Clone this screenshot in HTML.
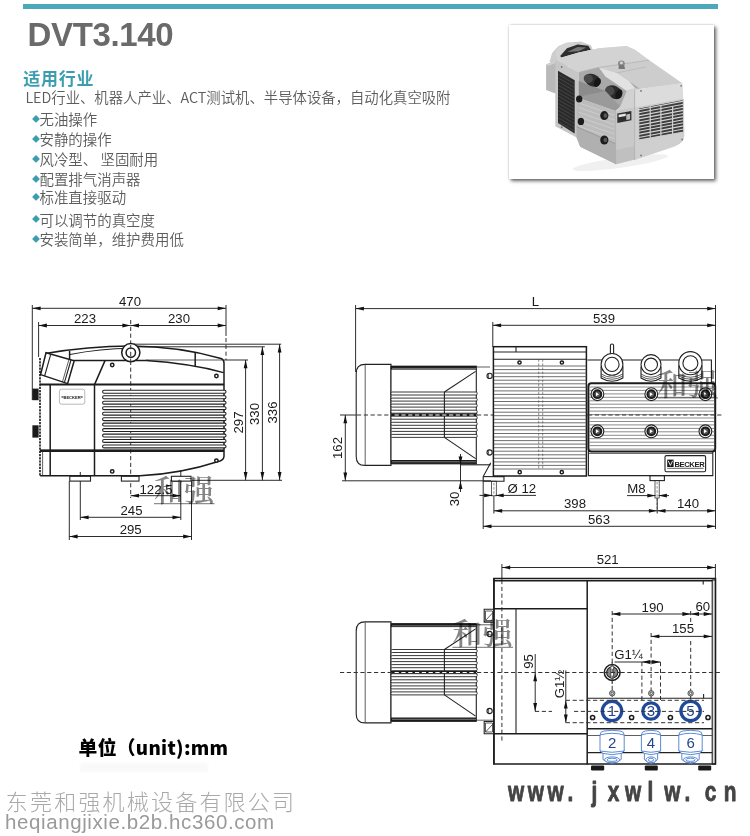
<!DOCTYPE html>
<html lang="zh-CN">
<head>
<meta charset="utf-8">
<title>DVT3.140</title>
<style>
html,body{margin:0;padding:0;background:#fff;}
body{width:750px;height:836px;position:relative;overflow:hidden;font-family:"Liberation Sans","Noto Sans CJK SC",sans-serif;}
#wrap{position:absolute;left:0;top:0;width:750px;height:836px;will-change:transform;}
.abs{position:absolute;white-space:nowrap;}
#bar{left:23px;top:4px;width:695px;height:5px;background:#4ba9b9;}
#title{left:27.6px;top:11px;font-size:33px;line-height:48px;font-weight:bold;color:#6a6a6a;letter-spacing:-0.35px;}
#head{left:23.2px;top:67.6px;font-size:17px;line-height:24px;font-weight:bold;color:#3d9db0;letter-spacing:0.75px;}
#desc{left:25.4px;top:85.5px;font-size:14.37px;line-height:22px;color:#5c5c5c;font-weight:350;font-family:"Noto Sans CJK SC","Liberation Sans",sans-serif;}
.li{left:32px;font-size:14.45px;line-height:20px;color:#5c5c5c;font-weight:350;font-family:"Noto Sans CJK SC","Liberation Sans",sans-serif;}
.li i{font-style:normal;color:#3d9db0;font-size:8px;display:inline-block;width:7.5px;vertical-align:3.6px;font-family:"DejaVu Sans",sans-serif;}
#card{left:508.5px;top:25.3px;width:205.3px;height:153.5px;background:#fff;box-shadow:2px 2px 3.5px rgba(0,0,0,.6),0 0 2px rgba(0,0,0,.22);}
#unit{left:78.6px;top:733.3px;font-size:18.8px;line-height:28px;font-weight:900;color:#000;letter-spacing:.3px;font-family:"Noto Sans CJK SC","Liberation Sans",sans-serif;}
#unit2{left:80px;top:763px;width:128px;height:9px;background:rgba(0,0,0,.022);filter:blur(1.2px);}
#corp{left:5.8px;top:784.6px;font-size:22px;line-height:30px;color:#a9a9a9;letter-spacing:2.2px;font-weight:300;font-family:"Noto Sans CJK SC",sans-serif;}
#url{left:5px;top:808px;font-size:20.5px;line-height:28px;color:#9a9a9a;letter-spacing:.6px;}
svg{position:absolute;left:0;top:0;}
svg line,svg path,svg rect,svg circle,svg ellipse{fill:none;stroke:#222;stroke-width:.9;}
svg .ph *{stroke:none;}
svg .ph line{fill:none;}
svg .k{stroke-width:1.5;stroke:#1c1c1c;}
svg .k2{stroke-width:2;stroke:#1c1c1c;}
svg .k15{stroke-width:1.6;stroke:#1c1c1c;}
svg .m{stroke-width:1.1;}
svg .n{stroke-width:.75;stroke:#2a2a2a;}
svg .g{stroke-width:.6;stroke:#8a8a8a;}
svg .cf{stroke-width:.75;stroke:#666;}
svg .hf{stroke-width:.8;stroke:#4a4a4a;}
svg .gf{stroke-width:.6;stroke:#9a9a9a;}
svg .t{stroke-width:.95;stroke:#222;}
svg .dsh{stroke-width:1;stroke:#333;stroke-dasharray:4.2 2.6;}
svg .dshw{stroke-width:1;stroke:#fff;stroke-dasharray:4.2 2.6;stroke-dashoffset:4.2;}
svg .dsh2{stroke-width:.6;stroke:#444;stroke-dasharray:2.5 1.6;}
svg .wav{stroke-width:1.6;stroke:#111;stroke-dasharray:2.2 1;}
svg .fin{stroke-width:.9;stroke:#222;fill:#fff;}
svg .gl{stroke:#bbb;stroke-width:.6;}
svg .lv{stroke-width:1.1;stroke:#222;fill:#fff;}
svg .blk{fill:#1a1a1a;stroke:none;}
svg .a{fill:#111;stroke:none;}
svg .wf{fill:#fff;stroke:none;}
svg .wln{stroke:#fff;stroke-width:.9;}
svg .bl3{stroke:#1f4a9a;stroke-width:3.3;}
svg .bl1{stroke:#4a7fd0;stroke-width:.9;}
svg .wmu{stroke:#8e8e8e;stroke-width:1.2;mix-blend-mode:multiply;}
svg text{font-family:"Liberation Sans","Noto Sans CJK SC",sans-serif;fill:#1a1a1a;stroke:none;}
svg .d{font-size:13.2px;}
svg .bn{font-size:15px;fill:#24468c;}
svg .bk1{font-size:4.1px;font-weight:bold;}
svg .bk2{font-size:7.6px;font-weight:bold;letter-spacing:-.35px;}
svg .wm{font-family:"Noto Serif CJK SC","Liberation Serif",serif;font-size:30px;fill:#858585;font-weight:600;mix-blend-mode:multiply;}
svg .www{font-family:"Liberation Sans",sans-serif;font-weight:bold;font-size:28.5px;fill:#444;stroke:#444;stroke-width:.9px;stroke-linejoin:round;}
</style>
</head>
<body>
<div id="wrap">
<div class="abs" id="bar"></div>
<div class="abs" id="title">DVT3.140</div>
<div class="abs" id="head">适用行业</div>
<div class="abs" id="desc">LED行业、机器人产业、ACT测试机、半导体设备，自动化真空吸附</div>
<div class="abs li" style="top:109.1px"><i>◆</i>无油操作</div>
<div class="abs li" style="top:129.1px"><i>◆</i>安静的操作</div>
<div class="abs li" style="top:149.1px"><i>◆</i>风冷型、 坚固耐用</div>
<div class="abs li" style="top:169.1px"><i>◆</i>配置排气消声器</div>
<div class="abs li" style="top:187.2px"><i>◆</i>标准直接驱动</div>
<div class="abs li" style="top:209.7px"><i>◆</i>可以调节的真空度</div>
<div class="abs li" style="top:229.4px"><i>◆</i>安装简单，维护费用低</div>
<div class="abs" id="card"></div>
<div class="abs" id="unit">单位（unit):mm</div>
<div class="abs" id="unit2"></div>
<div class="abs" id="corp">东莞和强机械设备有限公司</div>
<div class="abs" id="url">heqiangjixie.b2b.hc360.com</div>
<svg width="750" height="836" viewBox="0 0 750 836">
<defs><filter id="pb" x="-5%" y="-5%" width="110%" height="110%"><feGaussianBlur stdDeviation="0.45"/></filter></defs>
<g class="ph" filter="url(#pb)">
<ellipse cx="620.3" cy="162.6" rx="48" ry="5.1" style="fill:#f0f0f0" transform="rotate(-8 620.3 162.6)"/>
<polygon points="549.5,61.7 552.1,53.1 558.5,46.1 567,42.7 580.9,41.4 590.9,45.2 593.7,52.1 588.3,58.5 560.6,69.1" style="fill:#cdcdcd"/>
<ellipse cx="567" cy="52.1" rx="11.7" ry="9" style="fill:#d4d4d4" transform="rotate(-25 567 52.1)"/>
<polygon points="560.2,55.9 567,48.2 577.7,44.4 588.3,45.7 590.9,49.9 580.9,52.5 569.1,56.3 562.3,58.9" style="fill:#2e2e2e"/>
<polygon points="567,52.1 577.7,46.9 586.2,47.4 578.7,51.2" style="fill:#777"/>
<polygon points="546.1,64.4 556.3,60.2 556.3,93.7 546.1,90" style="fill:#b9b9b9"/>
<polygon points="546.1,64.4 556.3,60.2 558.9,61.5 548.2,66.1" style="fill:#d0d0d0"/>
<polygon points="555.3,60.2 578.7,71.7 578.7,138.5 555.3,126.3" style="fill:#c6c6c6"/>
<polygon points="558,70.8 574.7,80.2 574.7,133.6 558,122.9" style="fill:#2b2b2b"/>
<line x1="558.5" y1="74.5" x2="574.3" y2="83.6" style="stroke:#5a5a5a;stroke-width:0.5"/>
<line x1="558.5" y1="78.1" x2="574.3" y2="87.3" style="stroke:#5a5a5a;stroke-width:0.5"/>
<line x1="558.5" y1="81.7" x2="574.3" y2="90.9" style="stroke:#5a5a5a;stroke-width:0.5"/>
<line x1="558.5" y1="85.3" x2="574.3" y2="94.5" style="stroke:#5a5a5a;stroke-width:0.5"/>
<line x1="558.5" y1="89" x2="574.3" y2="98.1" style="stroke:#5a5a5a;stroke-width:0.5"/>
<line x1="558.5" y1="92.6" x2="574.3" y2="101.8" style="stroke:#5a5a5a;stroke-width:0.5"/>
<line x1="558.5" y1="96.2" x2="574.3" y2="105.4" style="stroke:#5a5a5a;stroke-width:0.5"/>
<line x1="558.5" y1="99.9" x2="574.3" y2="109" style="stroke:#5a5a5a;stroke-width:0.5"/>
<line x1="558.5" y1="103.5" x2="574.3" y2="112.7" style="stroke:#5a5a5a;stroke-width:0.5"/>
<line x1="558.5" y1="107.1" x2="574.3" y2="116.3" style="stroke:#5a5a5a;stroke-width:0.5"/>
<line x1="558.5" y1="110.7" x2="574.3" y2="119.9" style="stroke:#5a5a5a;stroke-width:0.5"/>
<line x1="558.5" y1="114.4" x2="574.3" y2="123.5" style="stroke:#5a5a5a;stroke-width:0.5"/>
<line x1="558.5" y1="118" x2="574.3" y2="127.2" style="stroke:#5a5a5a;stroke-width:0.5"/>
<line x1="558.5" y1="121.6" x2="574.3" y2="130.8" style="stroke:#5a5a5a;stroke-width:0.5"/>
<polygon points="556.3,58.9 578.7,52.5 599,48.2 626.7,46.1 635.3,49.9 649.1,60.2 682.2,83.2 640,88.8 628.9,81.1 617.1,73 599,67.4 578.7,72.5" style="fill:#dadada"/>
<polygon points="578.7,52.5 599,48.2 626.7,46.1 635.3,49.9 649.1,60.2 624.6,63.2 599,67.4 578.7,72.5 556.3,58.9" style="fill:#d3d3d3"/>
<polygon points="599,67.4 624.6,63.2 649.1,60.2 682.2,83.2 640,88.8 628.9,81.1 617.1,73" style="fill:#cdcdcd"/>
<line x1="578.7" y1="72.5" x2="599" y2="67.4" style="stroke:#999;stroke-width:0.6"/>
<line x1="599" y1="67.4" x2="649.1" y2="60.2" style="stroke:#aaa;stroke-width:0.6"/>
<line x1="608.6" y1="74.5" x2="645.9" y2="67" style="stroke:#b5b5b5;stroke-width:0.7"/>
<polygon points="578.7,72.5 599,67.4 617.1,73 628.9,81.1 640,88.8 634.2,90.9 620.3,106.5 578.7,90.9" style="fill:#a9a9a9"/>
<polygon points="599,67.4 617.1,73 628.9,81.1 635.3,88.3 626.7,90.9 605.4,76.6" style="fill:#e2e2e2"/>
<polygon points="578.7,80.9 605.4,90.9 616.1,107.5 578.7,96.9" style="fill:#8c8c8c"/>
<polygon points="620.3,106.5 626.7,90.9 635.3,88.3 640,88.8 634.6,90.9 634.6,107.1 615.6,111.4" style="fill:#d2d2d2"/>
<ellipse cx="592.6" cy="80.2" rx="8.5" ry="6" style="fill:#2a2a2a" transform="rotate(25 592.6 80.2)"/>
<ellipse cx="588.3" cy="78.7" rx="4.7" ry="4.3" style="fill:#4a4a4a" transform="rotate(25 588.3 78.7)"/>
<ellipse cx="597.3" cy="82.4" rx="3" ry="4.7" style="fill:#181818" transform="rotate(25 597.3 82.4)"/>
<ellipse cx="613.9" cy="92.2" rx="9" ry="6.4" style="fill:#2a2a2a" transform="rotate(25 613.9 92.2)"/>
<ellipse cx="609.7" cy="90.9" rx="4.7" ry="4.5" style="fill:#4a4a4a" transform="rotate(25 609.7 90.9)"/>
<ellipse cx="618.8" cy="94.3" rx="3" ry="4.9" style="fill:#181818" transform="rotate(25 618.8 94.3)"/>
<ellipse cx="621.4" cy="63.4" rx="3.4" ry="3" style="fill:#8a8a8a"/>
<ellipse cx="621.4" cy="62.9" rx="1.5" ry="1.3" style="fill:#d8d8d8"/>
<polygon points="618.8,64.9 624.2,64.9 625,69.1 618.6,69.1" style="fill:#777"/>
<polygon points="576.6,97.3 615.6,110.9 615.6,163.9 580.2,146.8 576.6,137.4" style="fill:#bcbcbc"/>
<polygon points="576.6,97.3 605.4,90.9 620.3,106.5 615.6,110.9" style="fill:#9a9a9a"/>
<line x1="578.7" y1="102.8" x2="614.4" y2="115.2" style="stroke:#d6d6d6;stroke-width:0.6"/>
<line x1="578.7" y1="107.5" x2="614.4" y2="119.9" style="stroke:#d6d6d6;stroke-width:0.6"/>
<line x1="578.7" y1="112.2" x2="614.4" y2="124.6" style="stroke:#d6d6d6;stroke-width:0.6"/>
<line x1="578.7" y1="116.9" x2="614.4" y2="129.3" style="stroke:#d6d6d6;stroke-width:0.6"/>
<line x1="578.7" y1="121.6" x2="614.4" y2="134" style="stroke:#d6d6d6;stroke-width:0.6"/>
<line x1="578.7" y1="126.3" x2="614.4" y2="138.7" style="stroke:#d6d6d6;stroke-width:0.6"/>
<line x1="578.7" y1="131" x2="614.4" y2="143.4" style="stroke:#d6d6d6;stroke-width:0.6"/>
<line x1="578.7" y1="135.7" x2="614.4" y2="148.1" style="stroke:#d6d6d6;stroke-width:0.6"/>
<line x1="578.7" y1="140.4" x2="614.4" y2="152.8" style="stroke:#d6d6d6;stroke-width:0.6"/>
<polygon points="576.6,126.7 615.6,143.8 615.6,163.9 580.2,146.8 576.6,137.4" style="fill:#b0b0b0"/>
<line x1="576.6" y1="126.7" x2="615.6" y2="143.8" style="stroke:#8e8e8e;stroke-width:0.7"/>
<polygon points="615.6,110.9 634.6,106.7 634.6,159.6 615.6,164.3" style="fill:#c9c9c9"/>
<polygon points="615.6,150.2 634.6,145.9 634.6,159.6 615.6,164.3" style="fill:#c0c0c0"/>
<line x1="615.6" y1="110.9" x2="615.6" y2="164.3" style="stroke:#a0a0a0;stroke-width:0.6"/>
<path d="M634.6,90 L682.2,83.2 L684.3,135.3 Q684.3,142.9 674.7,146.4 L634.6,160 Z" style="fill:#cfcfcf"/>
<polygon points="634.6,90 682.2,83.2 683.3,98.6 637.4,107.1 634.6,106.7" style="fill:#dcdcdc"/>
<line x1="634.6" y1="90" x2="634.6" y2="160" style="stroke:#a5a5a5;stroke-width:0.7"/>
<polygon points="638.7,108 683.3,99.4 683.7,132.1 638.7,140" style="fill:#3c3c3c"/>
<line x1="638.7" y1="109.7" x2="683.5" y2="101.1" style="stroke:#d4d4d4;stroke-width:1.1"/>
<line x1="638.7" y1="112.8" x2="683.5" y2="104.2" style="stroke:#d4d4d4;stroke-width:1.1"/>
<line x1="638.7" y1="115.9" x2="683.5" y2="107.3" style="stroke:#d4d4d4;stroke-width:1.1"/>
<line x1="638.7" y1="118.9" x2="683.5" y2="110.4" style="stroke:#d4d4d4;stroke-width:1.1"/>
<line x1="638.7" y1="122" x2="683.5" y2="113.5" style="stroke:#d4d4d4;stroke-width:1.1"/>
<line x1="638.7" y1="125.1" x2="683.5" y2="116.6" style="stroke:#d4d4d4;stroke-width:1.1"/>
<line x1="638.7" y1="128.2" x2="683.5" y2="119.7" style="stroke:#d4d4d4;stroke-width:1.1"/>
<line x1="638.7" y1="131.3" x2="683.5" y2="122.8" style="stroke:#d4d4d4;stroke-width:1.1"/>
<line x1="638.7" y1="134.4" x2="683.5" y2="125.9" style="stroke:#d4d4d4;stroke-width:1.1"/>
<line x1="638.7" y1="137.5" x2="683.5" y2="129" style="stroke:#d4d4d4;stroke-width:1.1"/>
<line x1="650.2" y1="106" x2="650.2" y2="137.8" style="stroke:#cfcfcf;stroke-width:1.2"/>
<line x1="660.9" y1="106" x2="660.9" y2="137.8" style="stroke:#cfcfcf;stroke-width:1.2"/>
<line x1="672.6" y1="106" x2="672.6" y2="137.8" style="stroke:#cfcfcf;stroke-width:1.2"/>
<polygon points="638.7,108 683.3,99.4 683.7,132.1 638.7,140" style="fill:none;stroke:#cfcfcf;stroke-width:1.2"/>
<ellipse cx="579.2" cy="99" rx="3.2" ry="3.6" style="fill:#1e1e1e"/>
<ellipse cx="580.9" cy="121.4" rx="3.2" ry="3.6" style="fill:#1e1e1e"/>
<ellipse cx="604.3" cy="115.6" rx="4.1" ry="4.5" style="fill:#1e1e1e"/>
<ellipse cx="604.3" cy="140" rx="4.1" ry="4.5" style="fill:#1e1e1e"/>
<ellipse cx="605.4" cy="115.6" rx="1.9" ry="2.3" style="fill:#555"/>
<ellipse cx="605.4" cy="140" rx="1.9" ry="2.3" style="fill:#555"/>
<polygon points="617.3,113.5 631.4,110.9 631.4,120.3 617.3,122.9" style="fill:#2f2f2f"/>
<polygon points="618.6,114.8 625.7,113.5 625.7,116.1 618.6,117.3" style="fill:#e8e8e8"/>
<polygon points="626.3,114.4 630.1,113.7 630.1,119.3 626.3,119.9" style="fill:#bbb"/>
<ellipse cx="561.7" cy="67" rx="0.9" ry="0.9" style="fill:#777"/>
<ellipse cx="561.7" cy="127.2" rx="0.9" ry="0.9" style="fill:#777"/>
<ellipse cx="641" cy="90.9" rx="0.9" ry="0.9" style="fill:#777"/>
<ellipse cx="681.1" cy="85.8" rx="0.9" ry="0.9" style="fill:#777"/>
<ellipse cx="682.2" cy="139.5" rx="0.9" ry="0.9" style="fill:#777"/>
<ellipse cx="641" cy="155.5" rx="0.9" ry="0.9" style="fill:#777"/>
</g>
<line class="t" x1="32.3" y1="305" x2="32.3" y2="400"/>
<line class="t" x1="38.6" y1="322" x2="38.6" y2="357"/>
<line class="t" x1="226" y1="305" x2="226" y2="336"/>
<line class="dsh" x1="226" y1="338" x2="226" y2="360"/>
<line class="t" x1="32.3" y1="308.3" x2="226" y2="308.3"/>
<polygon class="a" points="32.3,308.3 40.6,306.4 40.6,310.2"/>
<polygon class="a" points="226,308.3 217.7,306.4 217.7,310.2"/>
<text class="d" x="130" y="305.8" text-anchor="middle">470</text>
<line class="t" x1="38.6" y1="325.5" x2="130.7" y2="325.5"/>
<polygon class="a" points="38.6,325.5 46.9,323.6 46.9,327.4"/>
<polygon class="a" points="130.7,325.5 122.4,323.6 122.4,327.4"/>
<text class="d" x="85" y="323" text-anchor="middle">223</text>
<line class="t" x1="130.7" y1="325.5" x2="226" y2="325.5"/>
<polygon class="a" points="130.7,325.5 139,323.6 139,327.4"/>
<polygon class="a" points="226,325.5 217.7,323.6 217.7,327.4"/>
<text class="d" x="179" y="323" text-anchor="middle">230</text>
<line class="dsh" x1="130.7" y1="320" x2="130.7" y2="498"/>
<line class="t" x1="224" y1="360" x2="248" y2="360"/>
<line class="t" x1="136" y1="346.8" x2="264.8" y2="346.8"/>
<line class="t" x1="134" y1="344.2" x2="281.2" y2="344.2"/>
<line class="t" x1="190" y1="480.3" x2="282" y2="480.3"/>
<line class="t" x1="245.6" y1="360" x2="245.6" y2="480.3"/>
<polygon class="a" points="245.6,360 243.7,368.3 247.5,368.3"/>
<polygon class="a" points="245.6,480.3 243.7,472 247.5,472"/>
<line class="t" x1="262.4" y1="346.8" x2="262.4" y2="480.3"/>
<polygon class="a" points="262.4,346.8 260.5,355.1 264.3,355.1"/>
<polygon class="a" points="262.4,480.3 260.5,472 264.3,472"/>
<line class="t" x1="279.6" y1="344.2" x2="279.6" y2="480.3"/>
<polygon class="a" points="279.6,344.2 277.7,352.5 281.5,352.5"/>
<polygon class="a" points="279.6,480.3 277.7,472 281.5,472"/>
<text class="d" text-anchor="middle" transform="translate(242.6 422.5) rotate(-90)">297</text>
<text class="d" text-anchor="middle" transform="translate(259.4 414) rotate(-90)">330</text>
<text class="d" text-anchor="middle" transform="translate(276.6 412.5) rotate(-90)">336</text>
<line class="t" x1="180.8" y1="470" x2="180.8" y2="520"/>
<line class="t" x1="80.3" y1="472" x2="80.3" y2="520"/>
<line class="t" x1="69.3" y1="481" x2="69.3" y2="540"/>
<line class="t" x1="191.5" y1="481" x2="191.5" y2="540"/>
<line class="t" x1="130.7" y1="495.7" x2="180.8" y2="495.7"/>
<polygon class="a" points="130.7,495.7 139,493.8 139,497.6"/>
<polygon class="a" points="180.8,495.7 172.5,493.8 172.5,497.6"/>
<text class="d" x="156" y="493.5" text-anchor="middle">122.5</text>
<line class="t" x1="80.3" y1="517.3" x2="180.8" y2="517.3"/>
<polygon class="a" points="80.3,517.3 88.6,515.4 88.6,519.2"/>
<polygon class="a" points="180.8,517.3 172.5,515.4 172.5,519.2"/>
<text class="d" x="131.5" y="515" text-anchor="middle">245</text>
<line class="t" x1="69.3" y1="536.5" x2="191.5" y2="536.5"/>
<polygon class="a" points="69.3,536.5 77.6,534.6 77.6,538.4"/>
<polygon class="a" points="191.5,536.5 183.2,534.6 183.2,538.4"/>
<text class="d" x="130.7" y="534" text-anchor="middle">295</text>
<path class="k" d="M45.5,353.6 Q88,346 131,346 Q180,346.5 221,358.5 Q224,359.5 224,363 L224,456 Q224,459.5 220,461 Q180,474 140,475.8 L40.2,475.8"/>
<path class="m" d="M70,354.5 Q100,348.4 131,348.2"/>
<path class="k" d="M73.8,360.6 L146,360.6 Q190,363.5 223.5,372.6"/>
<line class="k" x1="195.2" y1="352.2" x2="195.2" y2="366.2"/>
<line class="k" x1="69.6" y1="351" x2="69.6" y2="359.6"/>
<line class="n" x1="146" y1="360" x2="224" y2="360"/>
<path class="k" d="M46,352.8 L74.2,360.8 L67.6,383.6 L40.6,374.6 Z" style="fill:#fff"/>
<path class="m" d="M50.8,354.2 L44.6,376"/>
<path class="m" d="M71,360 L64.4,382.6"/>
<path class="n" d="M69,359.4 L62.4,382"/>
<line class="wav" x1="40" y1="358" x2="40" y2="476"/>
<line class="k2" x1="40" y1="384.6" x2="224" y2="384.6"/>
<line class="k2" x1="40" y1="451" x2="224" y2="451"/>
<line class="n" x1="40" y1="449.6" x2="224" y2="449.6"/>
<line class="k" x1="50.2" y1="384.6" x2="50.2" y2="475.8"/>
<line class="k" x1="94.5" y1="384.6" x2="94.5" y2="475.8"/>
<path class="k" d="M105,360.6 L94.5,384.6"/>
<rect class="blk" x="32.4" y="388.6" width="6.2" height="11.6"/>
<rect class="blk" x="32.4" y="425.3" width="6.2" height="12.3"/>
<rect class="g" x="59.4" y="389.2" width="25.4" height="15" rx="2.2"/>
<text class="bk1" x="72.1" y="398.5" text-anchor="middle">BECKER</text>
<line class="m" x1="61.5" y1="397" x2="63.5" y2="397"/>
<line class="m" x1="80.7" y1="397" x2="82.7" y2="397"/>
<circle class="k" cx="130.8" cy="352.6" r="9.1" style="fill:#fff"/>
<circle class="k" cx="130.8" cy="352.6" r="4.7" style="fill:#fff"/>
<line class="dsh" x1="130.7" y1="345" x2="130.7" y2="362"/>
<circle class="k" cx="112.2" cy="365" r="1.7" style="fill:#fff"/>
<circle class="k" cx="216.4" cy="376" r="1.7" style="fill:#fff"/>
<circle class="k" cx="216.4" cy="460.6" r="1.7" style="fill:#fff"/>
<circle class="k" cx="112.2" cy="471.4" r="1.7" style="fill:#fff"/>
<rect class="lv" x="102.6" y="390.3" width="123.4" height="2.9" rx="1.4"/>
<rect class="lv" x="102.6" y="395.8" width="123.4" height="2.9" rx="1.4"/>
<rect class="lv" x="102.6" y="401.2" width="123.4" height="2.9" rx="1.4"/>
<rect class="lv" x="102.6" y="406.7" width="123.4" height="2.9" rx="1.4"/>
<rect class="lv" x="102.6" y="412.2" width="123.4" height="2.9" rx="1.4"/>
<rect class="lv" x="102.6" y="417.7" width="123.4" height="2.9" rx="1.4"/>
<rect class="lv" x="102.6" y="423.1" width="123.4" height="2.9" rx="1.4"/>
<rect class="lv" x="102.6" y="428.6" width="123.4" height="2.9" rx="1.4"/>
<rect class="lv" x="102.6" y="434.1" width="123.4" height="2.9" rx="1.4"/>
<rect class="lv" x="102.6" y="439.5" width="123.4" height="2.9" rx="1.4"/>
<rect class="lv" x="102.6" y="445" width="123.4" height="2.9" rx="1.4"/>
<rect class="m" x="69.8" y="476.3" width="20.7" height="4.8" style="fill:#fff"/>
<rect class="m" x="121.4" y="476.3" width="17.6" height="4.8" style="fill:#fff"/>
<rect class="m" x="171.4" y="476.3" width="19.6" height="4.8" style="fill:#fff"/>
<line class="n" x1="42.6" y1="452" x2="42.6" y2="475"/>
<line class="t" x1="355.6" y1="305" x2="355.6" y2="372"/>
<line class="t" x1="492.8" y1="322" x2="492.8" y2="347"/>
<line class="t" x1="715.5" y1="305" x2="715.5" y2="529"/>
<line class="t" x1="355.6" y1="308.6" x2="715.5" y2="308.6"/>
<polygon class="a" points="355.6,308.6 363.9,306.7 363.9,310.5"/>
<polygon class="a" points="715.5,308.6 707.2,306.7 707.2,310.5"/>
<text class="d" x="535.3" y="306" text-anchor="middle">L</text>
<line class="t" x1="492.8" y1="325.3" x2="715.5" y2="325.3"/>
<polygon class="a" points="492.8,325.3 501.1,323.4 501.1,327.2"/>
<polygon class="a" points="715.5,325.3 707.2,323.4 707.2,327.2"/>
<text class="d" x="604" y="323" text-anchor="middle">539</text>
<line class="t" x1="340" y1="415" x2="357" y2="415"/>
<line class="t" x1="342" y1="480.8" x2="491" y2="480.8"/>
<line class="t" x1="345.3" y1="415" x2="345.3" y2="480.8"/>
<polygon class="a" points="345.3,415 343.4,423.3 347.2,423.3"/>
<polygon class="a" points="345.3,480.8 343.4,472.5 347.2,472.5"/>
<text class="d" text-anchor="middle" transform="translate(342 448) rotate(-90)">162</text>
<path class="m" d="M391,364.4 L365,364.4 Q356.2,364.4 356.2,373.4 L356.2,456.4 Q356.2,465.4 365,465.4 L391,465.4 Z" style="fill:#fff"/>
<line class="n" x1="365.2" y1="364.9" x2="365.2" y2="464.9"/>
<rect class="m" x="391" y="366.2" width="85.3" height="97.6" style="fill:#fff"/>
<rect class="blk" x="391" y="366" width="85.3" height="3.6"/>
<rect class="blk" x="391" y="460" width="85.3" height="3.8"/>
<line class="gl" x1="392" y1="368.4" x2="476" y2="368.4"/>
<line class="gl" x1="392" y1="461.8" x2="476" y2="461.8"/>
<rect class="fin" x="391" y="392" width="86.2" height="3" rx="1.2"/>
<rect class="fin" x="391" y="398.1" width="86.2" height="3" rx="1.2"/>
<rect class="fin" x="391" y="404.1" width="86.2" height="3" rx="1.2"/>
<rect class="blk" x="391" y="413.2" width="86.2" height="3"/>
<rect class="fin" x="391" y="410.2" width="86.2" height="3" rx="1.2"/>
<rect class="fin" x="391" y="416.2" width="86.2" height="3" rx="1.2"/>
<rect class="fin" x="391" y="422.3" width="86.2" height="3" rx="1.2"/>
<rect class="fin" x="391" y="428.4" width="86.2" height="3" rx="1.2"/>
<rect class="fin" x="391" y="434.4" width="86.2" height="3" rx="1.2"/>
<line class="m" x1="444.4" y1="392" x2="444.4" y2="437.4"/>
<line class="m" x1="444.4" y1="392" x2="475.6" y2="371.4"/>
<line class="m" x1="444.4" y1="437.4" x2="475.6" y2="458.6"/>
<line class="dsh" x1="357" y1="415" x2="392" y2="415"/>
<line class="dshw" x1="392" y1="415" x2="477" y2="415"/>
<line class="dsh" x1="477" y1="415" x2="588" y2="415"/>
<line class="t" x1="460.5" y1="454" x2="460.5" y2="492"/>
<polygon class="a" points="460.5,464.8 458.6,456.5 462.4,456.5"/>
<polygon class="a" points="460.5,480.8 458.6,489.1 462.4,489.1"/>
<text class="d" text-anchor="middle" transform="translate(459.3 499) rotate(-90)">30</text>
<line class="m" x1="460" y1="464.8" x2="490.7" y2="464.8"/>
<line class="n" x1="476.3" y1="367" x2="490" y2="367"/>
<circle class="m" cx="489.6" cy="375.9" r="2.6" style="fill:#fff"/>
<line class="n" x1="488.6" y1="373.5" x2="488.6" y2="378.3"/>
<circle class="m" cx="489.6" cy="452.5" r="2.6" style="fill:#fff"/>
<line class="n" x1="488.6" y1="450.1" x2="488.6" y2="454.9"/>
<rect class="k" x="493.4" y="346.7" width="93" height="129.3" style="fill:#fff"/>
<line class="m" x1="493.4" y1="352" x2="586.4" y2="352"/>
<line class="m" x1="493.4" y1="359.2" x2="586.4" y2="359.2"/>
<line class="m" x1="516" y1="346.8" x2="516" y2="351.9"/>
<line class="hf" x1="494" y1="366" x2="586.5" y2="366"/>
<line class="hf" x1="494" y1="369.6" x2="586.5" y2="369.6"/>
<line class="hf" x1="494" y1="373.1" x2="586.5" y2="373.1"/>
<line class="hf" x1="494" y1="376.7" x2="586.5" y2="376.7"/>
<line class="hf" x1="494" y1="380.2" x2="586.5" y2="380.2"/>
<line class="hf" x1="494" y1="383.8" x2="586.5" y2="383.8"/>
<line class="hf" x1="494" y1="387.3" x2="586.5" y2="387.3"/>
<line class="hf" x1="494" y1="390.9" x2="586.5" y2="390.9"/>
<line class="hf" x1="494" y1="394.4" x2="586.5" y2="394.4"/>
<line class="hf" x1="494" y1="398" x2="586.5" y2="398"/>
<line class="hf" x1="494" y1="401.5" x2="586.5" y2="401.5"/>
<line class="hf" x1="494" y1="405.1" x2="586.5" y2="405.1"/>
<line class="hf" x1="494" y1="408.6" x2="586.5" y2="408.6"/>
<line class="hf" x1="494" y1="412.2" x2="586.5" y2="412.2"/>
<line class="hf" x1="494" y1="415.7" x2="586.5" y2="415.7"/>
<line class="hf" x1="494" y1="419.3" x2="586.5" y2="419.3"/>
<line class="hf" x1="494" y1="422.8" x2="586.5" y2="422.8"/>
<line class="hf" x1="494" y1="426.4" x2="586.5" y2="426.4"/>
<line class="hf" x1="494" y1="429.9" x2="586.5" y2="429.9"/>
<line class="hf" x1="494" y1="433.5" x2="586.5" y2="433.5"/>
<line class="hf" x1="494" y1="437" x2="586.5" y2="437"/>
<line class="hf" x1="494" y1="440.6" x2="586.5" y2="440.6"/>
<line class="hf" x1="494" y1="444.1" x2="586.5" y2="444.1"/>
<line class="hf" x1="494" y1="447.7" x2="586.5" y2="447.7"/>
<line class="hf" x1="494" y1="451.2" x2="586.5" y2="451.2"/>
<line class="hf" x1="494" y1="454.8" x2="586.5" y2="454.8"/>
<line class="hf" x1="494" y1="458.3" x2="586.5" y2="458.3"/>
<line class="hf" x1="494" y1="461.9" x2="586.5" y2="461.9"/>
<line class="hf" x1="494" y1="465.4" x2="586.5" y2="465.4"/>
<line class="hf" x1="494" y1="469" x2="586.5" y2="469"/>
<line class="dsh2" x1="538.7" y1="359.3" x2="538.7" y2="470"/>
<line class="dsh2" x1="542.7" y1="359.3" x2="542.7" y2="470"/>
<circle class="k" cx="519.5" cy="362.5" r="1.6" style="fill:#fff"/>
<circle class="k" cx="561.9" cy="362.5" r="1.6" style="fill:#fff"/>
<circle class="k" cx="519.7" cy="472.2" r="1.6" style="fill:#fff"/>
<circle class="k" cx="561.8" cy="472.2" r="1.6" style="fill:#fff"/>
<path class="m" d="M490.7,462.7 L483.2,476.6 L483.2,481.2 L504,481.2 L504,476.6 L493,476.6"/>
<line class="m" x1="483.2" y1="476.6" x2="493" y2="476.6"/>
<rect class="n" x="491.5" y="481.2" width="4.8" height="14.6"/>
<line class="dsh2" x1="493.9" y1="483" x2="493.9" y2="494"/>
<line class="t" x1="479.5" y1="495.4" x2="492.4" y2="495.4"/>
<polygon class="a" points="492.4,495.4 484.1,493.5 484.1,497.3"/>
<line class="t" x1="495.4" y1="495.4" x2="536" y2="495.4"/>
<polygon class="a" points="495.4,495.4 503.7,493.5 503.7,497.3"/>
<text class="d" x="507.5" y="492.8">Ø 12</text>
<line class="t" x1="627" y1="495.6" x2="655.6" y2="495.6"/>
<polygon class="a" points="655.6,495.6 647.3,493.7 647.3,497.5"/>
<line class="t" x1="658.6" y1="495.6" x2="669" y2="495.6"/>
<polygon class="a" points="658.6,495.6 666.9,493.7 666.9,497.5"/>
<text class="d" x="627.2" y="492.8">M8</text>
<rect class="m" x="650" y="475.6" width="14.4" height="5" style="fill:#fff"/>
<rect class="n" x="655" y="480.6" width="4.2" height="17.4"/>
<line class="dsh2" x1="657.1" y1="482" x2="657.1" y2="510"/>
<line class="t" x1="483.2" y1="481.2" x2="483.2" y2="529"/>
<line class="t" x1="493.9" y1="496" x2="493.9" y2="513.5"/>
<line class="t" x1="657.2" y1="498" x2="657.2" y2="513.5"/>
<line class="t" x1="493.9" y1="510.8" x2="657.2" y2="510.8"/>
<polygon class="a" points="493.9,510.8 502.2,508.9 502.2,512.7"/>
<polygon class="a" points="657.2,510.8 648.9,508.9 648.9,512.7"/>
<text class="d" x="575" y="508.4" text-anchor="middle">398</text>
<line class="t" x1="657.2" y1="510.8" x2="715.5" y2="510.8"/>
<polygon class="a" points="657.2,510.8 665.5,508.9 665.5,512.7"/>
<polygon class="a" points="715.5,510.8 707.2,508.9 707.2,512.7"/>
<text class="d" x="688" y="508.4" text-anchor="middle">140</text>
<line class="t" x1="483.2" y1="526.3" x2="715.5" y2="526.3"/>
<polygon class="a" points="483.2,526.3 491.5,524.4 491.5,528.2"/>
<polygon class="a" points="715.5,526.3 707.2,524.4 707.2,528.2"/>
<text class="d" x="599" y="523.6" text-anchor="middle">563</text>
<path class="m" d="M587.5,360 L711.4,360 L711.4,383"/>
<rect class="m" x="610.4" y="344" width="3.2" height="12" rx="1.6"/>
<path class="m" d="M601.1,366.4 L601.1,378 Q612,384.5 622.9,378 L622.9,366.4" style="fill:#fff"/>
<path class="n" d="M601.1,374 Q612,380.5 622.9,374"/>
<path class="n" d="M601.1,376 Q612,382.5 622.9,376"/>
<circle class="m" cx="612" cy="364.4" r="10.9" style="fill:#fff"/>
<circle class="m" cx="612" cy="364.4" r="7.1" style="fill:#fff"/>
<path class="m" d="M641,366.6 L641,378 Q651,384.5 661,378 L661,366.6" style="fill:#fff"/>
<path class="n" d="M641,374 Q651,380.5 661,374"/>
<path class="n" d="M641,376 Q651,382.5 661,376"/>
<circle class="m" cx="651" cy="364.6" r="10" style="fill:#fff"/>
<circle class="m" cx="651" cy="364.6" r="6.5" style="fill:#fff"/>
<path class="m" d="M678.8,365.2 L678.8,378 Q690.4,384.5 702,378 L702,365.2" style="fill:#fff"/>
<path class="n" d="M678.8,374 Q690.4,380.5 702,374"/>
<path class="n" d="M678.8,376 Q690.4,382.5 702,376"/>
<circle class="m" cx="690.4" cy="363.2" r="11.6" style="fill:#fff"/>
<circle class="m" cx="690.4" cy="363.2" r="7.5" style="fill:#fff"/>
<rect class="k2" x="588.4" y="383.2" width="126.8" height="68.4" rx="3" style="fill:#fff"/>
<line class="cf" x1="589.5" y1="387" x2="714" y2="387"/>
<line class="cf" x1="589.5" y1="390.4" x2="714" y2="390.4"/>
<line class="cf" x1="589.5" y1="393.9" x2="714" y2="393.9"/>
<line class="cf" x1="589.5" y1="397.3" x2="714" y2="397.3"/>
<line class="cf" x1="589.5" y1="400.8" x2="714" y2="400.8"/>
<line class="cf" x1="589.5" y1="404.2" x2="714" y2="404.2"/>
<line class="cf" x1="589.5" y1="407.7" x2="714" y2="407.7"/>
<line class="cf" x1="589.5" y1="411.1" x2="714" y2="411.1"/>
<line class="cf" x1="589.5" y1="414.6" x2="714" y2="414.6"/>
<line class="cf" x1="589.5" y1="418" x2="714" y2="418"/>
<line class="cf" x1="589.5" y1="421.5" x2="714" y2="421.5"/>
<line class="cf" x1="589.5" y1="424.9" x2="714" y2="424.9"/>
<line class="cf" x1="589.5" y1="428.4" x2="714" y2="428.4"/>
<line class="cf" x1="589.5" y1="431.8" x2="714" y2="431.8"/>
<line class="cf" x1="589.5" y1="435.3" x2="714" y2="435.3"/>
<line class="cf" x1="589.5" y1="438.7" x2="714" y2="438.7"/>
<line class="cf" x1="589.5" y1="442.2" x2="714" y2="442.2"/>
<line class="cf" x1="589.5" y1="445.6" x2="714" y2="445.6"/>
<line class="cf" x1="589.5" y1="449.1" x2="714" y2="449.1"/>
<line class="dsh" x1="588" y1="415" x2="722" y2="415"/>
<circle class="m" cx="597.4" cy="394.2" r="6.4" style="fill:#fff"/>
<circle class="k2" cx="597.4" cy="394.2" r="3.9" style="fill:#555"/>
<path class="wf" d="M596,392.2 L599,394.2 L596,396.2 Z"/>
<circle class="m" cx="597.4" cy="431.3" r="6.4" style="fill:#fff"/>
<circle class="k2" cx="597.4" cy="431.3" r="3.9" style="fill:#555"/>
<path class="wf" d="M596,429.3 L599,431.3 L596,433.3 Z"/>
<circle class="m" cx="651.3" cy="394.2" r="6.4" style="fill:#fff"/>
<circle class="k2" cx="651.3" cy="394.2" r="3.9" style="fill:#555"/>
<path class="wf" d="M649.9,392.2 L652.9,394.2 L649.9,396.2 Z"/>
<circle class="m" cx="651.3" cy="431.3" r="6.4" style="fill:#fff"/>
<circle class="k2" cx="651.3" cy="431.3" r="3.9" style="fill:#555"/>
<path class="wf" d="M649.9,429.3 L652.9,431.3 L649.9,433.3 Z"/>
<circle class="m" cx="705.4" cy="394.2" r="6.4" style="fill:#fff"/>
<circle class="k2" cx="705.4" cy="394.2" r="3.9" style="fill:#555"/>
<path class="wf" d="M704,392.2 L707,394.2 L704,396.2 Z"/>
<circle class="m" cx="705.4" cy="431.3" r="6.4" style="fill:#fff"/>
<circle class="k2" cx="705.4" cy="431.3" r="3.9" style="fill:#555"/>
<path class="wf" d="M704,429.3 L707,431.3 L704,433.3 Z"/>
<path class="m" d="M588.4,451 L588.4,475.6 L712.8,475.6 L712.8,451"/>
<line class="n" x1="588" y1="453.4" x2="712.8" y2="453.4"/>
<rect class="m" x="665" y="455.6" width="40.6" height="16.2" rx="1.5" style="fill:#fff"/>
<rect class="blk" x="667.2" y="459.6" width="6.4" height="7.4"/>
<path class="wln" d="M668.2,460.8 L670.4,465.4 L672.6,460.8"/>
<text class="bk2" x="674.4" y="466.9">BECKER</text>
<line class="n" x1="667.2" y1="468.3" x2="703.6" y2="468.3"/>
<line class="t" x1="501.9" y1="564" x2="501.9" y2="580"/>
<line class="dsh" x1="501.9" y1="580" x2="501.9" y2="741"/>
<line class="t" x1="715.4" y1="564" x2="715.4" y2="580"/>
<line class="t" x1="501.9" y1="567.5" x2="715.4" y2="567.5"/>
<polygon class="a" points="501.9,567.5 510.2,565.6 510.2,569.4"/>
<polygon class="a" points="715.4,567.5 707.1,565.6 707.1,569.4"/>
<text class="d" x="607.7" y="564.2" text-anchor="middle">521</text>
<rect class="m" x="712.2" y="580" width="3.3" height="184" style="fill:#ddd"/>
<path class="k" d="M493.9,578.6 L715.5,578.6 L715.5,764 L493.9,764 Z" style="fill:none"/>
<line class="k" x1="493.9" y1="580.8" x2="712.2" y2="580.8"/>
<line class="k" x1="587.2" y1="580.6" x2="587.2" y2="764.6"/>
<line class="k" x1="494" y1="608.8" x2="587.2" y2="608.8"/>
<line class="m" x1="516" y1="608.8" x2="516" y2="733.7"/>
<line class="k" x1="494" y1="733.7" x2="587.2" y2="733.7"/>
<line class="k" x1="493.9" y1="578.3" x2="493.9" y2="764.6"/>
<path class="m" d="M493.9,609.3 L484.2,609.3 L484.2,622.3 L493.9,622.3"/>
<path class="m" d="M493.9,721.5 L484.2,721.5 L484.2,733.7 L493.9,733.7"/>
<path class="n" d="M485.5,611 L492.5,611 L492.5,620.5 L485.5,620.5 Z"/>
<path class="n" d="M485.5,723 L492.5,723 L492.5,732 L485.5,732 Z"/>
<line class="n" x1="485.5" y1="620.5" x2="492.5" y2="613"/>
<line class="n" x1="485.5" y1="732" x2="492.5" y2="724.5"/>
<path class="m" d="M391,621.9 L365,621.9 Q356.2,621.9 356.2,630.9 L356.2,713.9 Q356.2,722.9 365,722.9 L391,722.9 Z" style="fill:#fff"/>
<line class="n" x1="365.2" y1="622.4" x2="365.2" y2="722.4"/>
<rect class="m" x="391" y="623.7" width="85.3" height="97.6" style="fill:#fff"/>
<rect class="blk" x="391" y="623.5" width="85.3" height="3.6"/>
<rect class="blk" x="391" y="717.5" width="85.3" height="3.8"/>
<line class="gl" x1="392" y1="625.9" x2="476" y2="625.9"/>
<line class="gl" x1="392" y1="719.3" x2="476" y2="719.3"/>
<rect class="fin" x="391" y="649.5" width="86.2" height="3" rx="1.2"/>
<rect class="fin" x="391" y="655.6" width="86.2" height="3" rx="1.2"/>
<rect class="fin" x="391" y="661.6" width="86.2" height="3" rx="1.2"/>
<rect class="blk" x="391" y="670.7" width="86.2" height="3"/>
<rect class="fin" x="391" y="667.7" width="86.2" height="3" rx="1.2"/>
<rect class="fin" x="391" y="673.7" width="86.2" height="3" rx="1.2"/>
<rect class="fin" x="391" y="679.8" width="86.2" height="3" rx="1.2"/>
<rect class="fin" x="391" y="685.9" width="86.2" height="3" rx="1.2"/>
<rect class="fin" x="391" y="691.9" width="86.2" height="3" rx="1.2"/>
<line class="m" x1="444.4" y1="649.5" x2="444.4" y2="694.9"/>
<line class="m" x1="444.4" y1="649.5" x2="475.6" y2="628.9"/>
<line class="m" x1="444.4" y1="694.9" x2="475.6" y2="716.1"/>
<line class="n" x1="476.3" y1="624.8" x2="493.9" y2="624.8"/>
<line class="n" x1="476.3" y1="720.2" x2="493.9" y2="720.2"/>
<circle class="m" cx="489.6" cy="634" r="2.6" style="fill:#fff"/>
<line class="n" x1="488.6" y1="631.6" x2="488.6" y2="636.4"/>
<circle class="m" cx="489.6" cy="711" r="2.6" style="fill:#fff"/>
<line class="n" x1="488.6" y1="708.6" x2="488.6" y2="713.4"/>
<line class="dsh" x1="340" y1="672.5" x2="392" y2="672.5"/>
<line class="dshw" x1="392" y1="672.5" x2="477" y2="672.5"/>
<line class="dsh" x1="477" y1="672.5" x2="604" y2="672.5"/>
<line class="dsh" x1="620.5" y1="672.5" x2="722" y2="672.5"/>
<line class="t" x1="535.2" y1="654" x2="535.2" y2="711.4"/>
<polygon class="a" points="535.2,672.9 533.3,681.2 537.1,681.2"/>
<polygon class="a" points="535.2,711.4 533.3,703.1 537.1,703.1"/>
<text class="d" text-anchor="middle" transform="translate(533 661.5) rotate(-90)">95</text>
<line class="dsh" x1="535" y1="711.4" x2="552" y2="711.4"/>
<line class="dsh" x1="574" y1="711.4" x2="587" y2="711.4"/>
<line class="t" x1="565.8" y1="670.4" x2="565.8" y2="722.7"/>
<polygon class="a" points="565.8,700.3 563.9,708.6 567.7,708.6"/>
<polygon class="a" points="565.8,722.7 563.9,714.4 567.7,714.4"/>
<text class="d" text-anchor="middle" transform="translate(564 684) rotate(-90)">G1½</text>
<line class="dsh" x1="612.2" y1="611" x2="612.2" y2="700"/>
<line class="dsh" x1="690.7" y1="611" x2="690.7" y2="623"/>
<line class="dsh" x1="690.7" y1="641" x2="690.7" y2="700"/>
<line class="dsh" x1="651.1" y1="633" x2="651.1" y2="700"/>
<line class="t" x1="612.1" y1="614" x2="690.7" y2="614"/>
<polygon class="a" points="612.1,614 620.4,612.1 620.4,615.9"/>
<polygon class="a" points="690.7,614 682.4,612.1 682.4,615.9"/>
<text class="d" x="652.6" y="611.6" text-anchor="middle">190</text>
<line class="t" x1="690.7" y1="614" x2="712" y2="614"/>
<polygon class="a" points="690.7,614 699,612.1 699,615.9"/>
<polygon class="a" points="712,614 703.7,612.1 703.7,615.9"/>
<text class="d" x="702.8" y="611.2" text-anchor="middle">60</text>
<line class="t" x1="651.1" y1="636.4" x2="712" y2="636.4"/>
<polygon class="a" points="651.1,636.4 659.4,634.5 659.4,638.3"/>
<polygon class="a" points="712,636.4 703.7,634.5 703.7,638.3"/>
<text class="d" x="683" y="632.8" text-anchor="middle">155</text>
<line class="t" x1="614.5" y1="662" x2="660.4" y2="662"/>
<polygon class="a" points="641.8,662 650.1,660.1 650.1,663.9"/>
<polygon class="a" points="660.4,662 652.1,660.1 652.1,663.9"/>
<text class="d" x="614.2" y="659.2">G1¼</text>
<line class="dsh" x1="641.9" y1="662" x2="641.9" y2="700"/>
<line class="dsh" x1="660.5" y1="662" x2="660.5" y2="700"/>
<circle class="k" cx="612.2" cy="672.5" r="7.9" style="fill:#fff"/>
<circle class="m" cx="612.2" cy="672.5" r="5.6" style="fill:#888"/>
<rect class="n" x="610.8" y="665.9" width="2.8" height="13.2" rx="1.4" style="fill:#fff"/>
<line class="dsh" x1="604" y1="672.5" x2="620.5" y2="672.5"/>
<line class="dsh" x1="612.2" y1="662" x2="612.2" y2="684"/>
<circle class="n" cx="612.2" cy="693.3" r="2.7" style="fill:#ccc"/>
<circle class="n" cx="612.2" cy="693.3" r="1.2" style="fill:#fff"/>
<circle class="n" cx="651.2" cy="693.3" r="2.7" style="fill:#ccc"/>
<circle class="n" cx="651.2" cy="693.3" r="1.2" style="fill:#fff"/>
<circle class="n" cx="690.6" cy="693.3" r="2.7" style="fill:#ccc"/>
<circle class="n" cx="690.6" cy="693.3" r="1.2" style="fill:#fff"/>
<line class="m" x1="587.2" y1="698.2" x2="712.2" y2="698.2"/>
<line class="k" x1="587.2" y1="728.8" x2="712.2" y2="728.8"/>
<line class="n" x1="587.2" y1="735.5" x2="712.2" y2="735.5"/>
<line class="m" x1="703.6" y1="694" x2="703.6" y2="698.2"/>
<circle class="bl3" cx="612" cy="711" r="9.7" style="fill:#fff"/>
<circle class="bl3" cx="651" cy="711" r="8.2" style="fill:#fff"/>
<circle class="bl3" cx="690.6" cy="711" r="9.7" style="fill:#fff"/>
<line class="dsh" x1="565.8" y1="700.3" x2="704" y2="700.3"/>
<line class="dsh" x1="565.8" y1="722.7" x2="704" y2="722.7"/>
<line class="dsh" x1="587" y1="711.4" x2="704" y2="711.4"/>
<circle class="k" cx="592.6" cy="717.5" r="2.1" style="fill:#fff"/>
<circle class="k" cx="631.6" cy="717.5" r="2.1" style="fill:#fff"/>
<circle class="k" cx="670.4" cy="717.5" r="2.1" style="fill:#fff"/>
<circle class="k" cx="708" cy="717.5" r="2.1" style="fill:#fff"/>
<text class="bn" x="612" y="716.4" text-anchor="middle">1</text>
<text class="bn" x="651" y="716.4" text-anchor="middle">3</text>
<text class="bn" x="690.4" y="716.4" text-anchor="middle">5</text>
<line class="m" x1="587.2" y1="752.6" x2="712.2" y2="752.6"/>
<path class="bl1" d="M600,735 Q600,731.5 604,731 Q612.1,729.6 620.2,731 Q624.2,731.5 624.2,735 L624.2,751 L621.2,753.4 L621.2,759.5 Q612.1,767 603,759.5 L603,753.4 L600,751 Z" style="fill:#fff"/>
<path class="bl1" d="M600,735 Q612.1,731.6 624.2,735"/>
<path class="bl1" d="M600,751 Q612.1,753.6 624.2,751"/>
<path class="bl1" d="M603,753.4 Q612.1,756 621.2,753.4"/>
<ellipse class="bl1" cx="612.1" cy="759.8" rx="7.6" ry="2.9" style="fill:#fff"/>
<ellipse class="bl1" cx="612.1" cy="759.8" rx="5.1" ry="1.6"/>
<path class="bl1" d="M641.4,735 Q641.4,731.5 645.4,731 Q651,729.6 656.6,731 Q660.6,731.5 660.6,735 L660.6,751 L657.6,753.4 L657.6,759.5 Q651,767 644.4,759.5 L644.4,753.4 L641.4,751 Z" style="fill:#fff"/>
<path class="bl1" d="M641.4,735 Q651,731.6 660.6,735"/>
<path class="bl1" d="M641.4,751 Q651,753.6 660.6,751"/>
<path class="bl1" d="M644.4,753.4 Q651,756 657.6,753.4"/>
<ellipse class="bl1" cx="651" cy="759.8" rx="5.1" ry="2.9" style="fill:#fff"/>
<ellipse class="bl1" cx="651" cy="759.8" rx="2.6" ry="1.6"/>
<path class="bl1" d="M678.8,735 Q678.8,731.5 682.8,731 Q690.5,729.6 698.2,731 Q702.2,731.5 702.2,735 L702.2,751 L699.2,753.4 L699.2,759.5 Q690.5,767 681.8,759.5 L681.8,753.4 L678.8,751 Z" style="fill:#fff"/>
<path class="bl1" d="M678.8,735 Q690.5,731.6 702.2,735"/>
<path class="bl1" d="M678.8,751 Q690.5,753.6 702.2,751"/>
<path class="bl1" d="M681.8,753.4 Q690.5,756 699.2,753.4"/>
<ellipse class="bl1" cx="690.5" cy="759.8" rx="7.2" ry="2.9" style="fill:#fff"/>
<ellipse class="bl1" cx="690.5" cy="759.8" rx="4.7" ry="1.6"/>
<text class="bn" x="612.2" y="748" text-anchor="middle">2</text>
<text class="bn" x="651" y="748" text-anchor="middle">4</text>
<text class="bn" x="690.6" y="748" text-anchor="middle">6</text>
<rect class="blk" x="591" y="765.4" width="13.2" height="5" rx="1.2"/>
<rect class="blk" x="644.8" y="765.4" width="13" height="5" rx="1.2"/>
<rect class="blk" x="698.2" y="765.4" width="13" height="5" rx="1.2"/>
<line class="m" x1="703.2" y1="580.6" x2="703.2" y2="584.6"/>
<text class="wm" x="154" y="500.5">和强</text>
<line class="wmu" x1="154" y1="503.7" x2="214.5" y2="503.7"/>
<text class="wm" x="657.5" y="394.6">和强</text>
<line class="wmu" x1="657.5" y1="397.8" x2="718" y2="397.8"/>
<text class="wm" x="452.5" y="644.2">和强</text>
<line class="wmu" x1="452.5" y1="647.4" x2="513" y2="647.4"/>
<text class="www" transform="translate(0 800.8) scale(0.73 1)" x="695.8 723 750.1 777.5 810.4 832.5 856.3 887.1 910.1 937.8 965.4 991.3">www.jxwlw.cn</text>
</svg>
</div>
</body>
</html>
